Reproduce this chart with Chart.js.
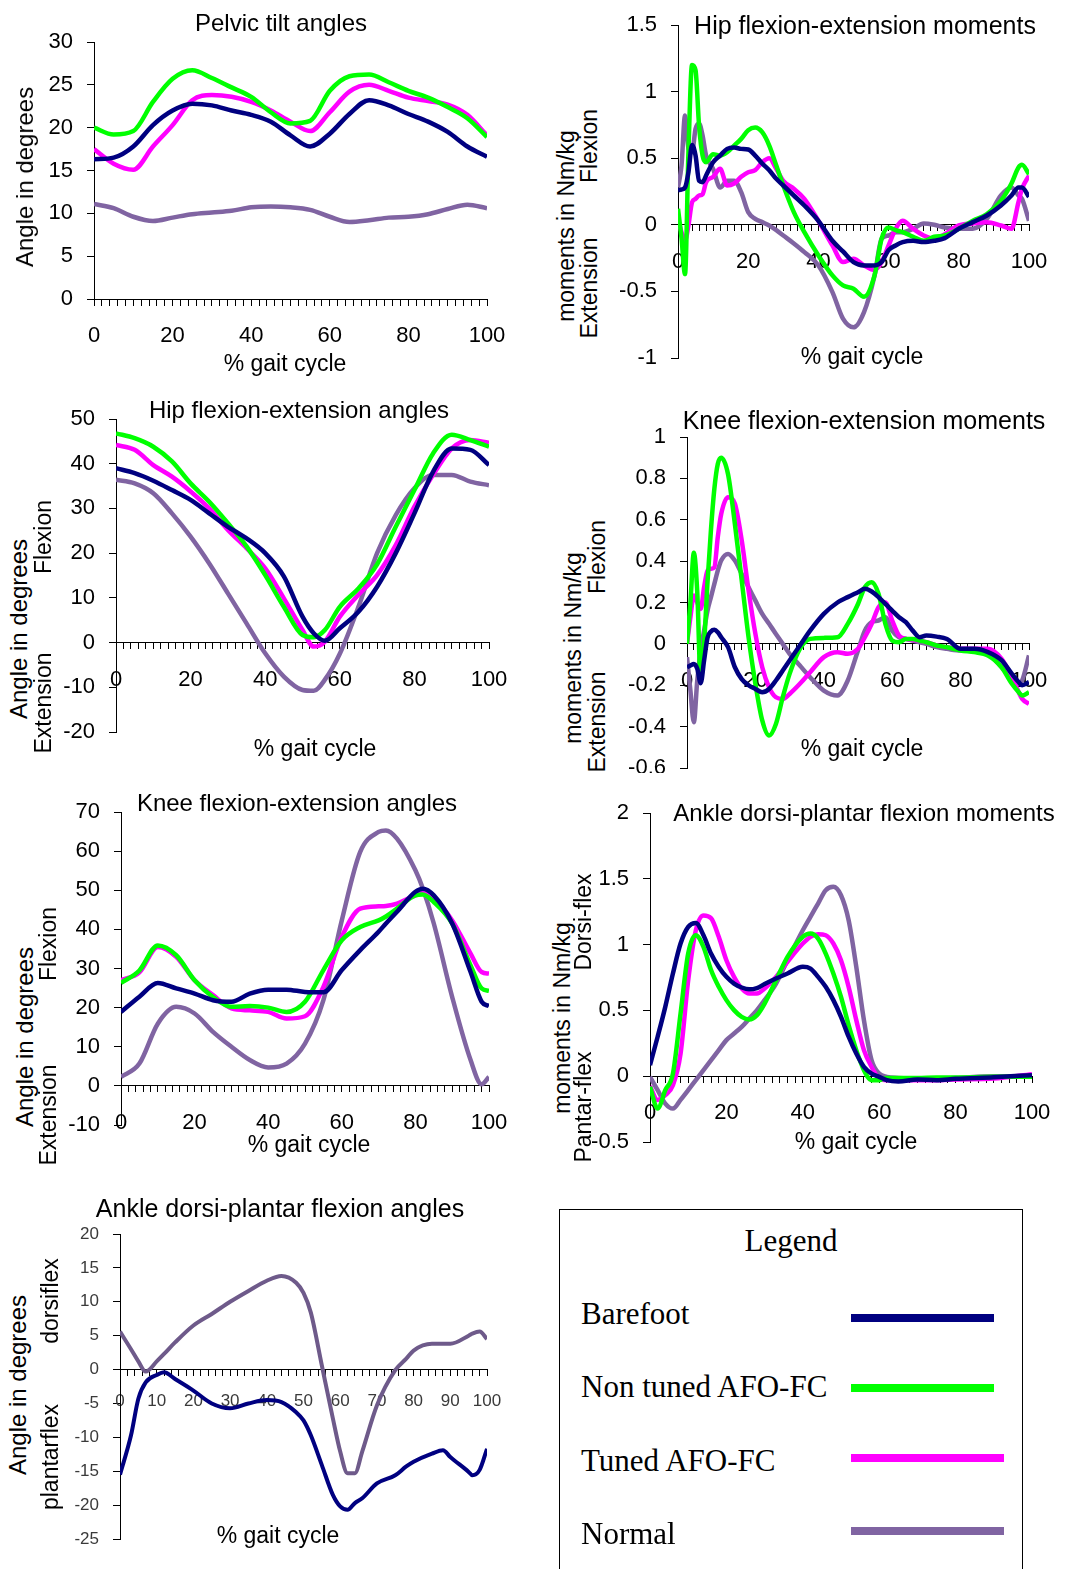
<!DOCTYPE html>
<html>
<head>
<meta charset="utf-8">
<title>Gait kinematics and kinetics</title>
<script src="https://cdn.jsdelivr.net/npm/chart.js@4.4.1/dist/chart.umd.min.js"></script>
<style>
  body { margin: 0; width: 1080px; height: 1569px; position: relative; overflow: hidden; background: #fff;
         font-family: "Liberation Sans", Arial, sans-serif; color: #000; }
  canvas { position: absolute; }
  .t { position: absolute; white-space: pre; line-height: 1; transform: translate(-50%, -50%); font-size: 23px; z-index: 2; }
  .r { transform: translate(-50%, -50%) rotate(-90deg); }
  .ag { font-size: 24px; }
  #legendBox { position: absolute; left: 559px; top: 1209px; width: 462px; height: 400px; border: 1.5px solid #000; }
  .lg { position: absolute; white-space: pre; line-height: 1; font-family: "Liberation Serif", "Times New Roman", serif; font-size: 31px; z-index: 2; }
  .lgline { position: absolute; height: 8px; }
</style>
</head>
<body>

<!-- titles / axis titles -->
<div class="t" style="left:281px;top:23px;font-size:24px">Pelvic tilt angles</div>
<div class="t r ag" style="left:25px;top:177px">Angle in degrees</div>
<div class="t" style="left:285px;top:363px">% gait cycle</div>

<div class="t" style="left:865px;top:25px;font-size:25px">Hip flexion-extension moments</div>
<div class="t r" style="left:566px;top:226px">moments in Nm/kg</div>
<div class="t r" style="left:589px;top:146px">Flexion</div>
<div class="t r" style="left:589px;top:288px">Extension</div>
<div class="t" style="left:862px;top:356px">% gait cycle</div>

<div class="t" style="left:299px;top:410px;font-size:24px">Hip flexion-extension angles</div>
<div class="t r ag" style="left:19px;top:629px">Angle in degrees</div>
<div class="t r" style="left:43px;top:537px">Flexion</div>
<div class="t r" style="left:43px;top:703px">Extension</div>
<div class="t" style="left:315px;top:748px">% gait cycle</div>

<div class="t" style="left:864px;top:420px;font-size:25px">Knee flexion-extension moments</div>
<div class="t r" style="left:573px;top:648px">moments in Nm/kg</div>
<div class="t r" style="left:597px;top:557px">Flexion</div>
<div class="t r" style="left:597px;top:722px">Extension</div>
<div class="t" style="left:862px;top:748px">% gait cycle</div>

<div class="t" style="left:297px;top:803px;font-size:24px">Knee flexion-extension angles</div>
<div class="t r ag" style="left:25px;top:1037px">Angle in degrees</div>
<div class="t r" style="left:48px;top:944px">Flexion</div>
<div class="t r" style="left:48px;top:1115px">Extension</div>
<div class="t" style="left:309px;top:1144px">% gait cycle</div>

<div class="t" style="left:864px;top:813px;font-size:24px">Ankle dorsi-plantar flexion moments</div>
<div class="t r" style="left:562px;top:1018px">moments in Nm/kg</div>
<div class="t r" style="left:583px;top:922px">Dorsi-flex</div>
<div class="t r" style="left:583px;top:1107px">Pantar-flex</div>
<div class="t" style="left:856px;top:1141px">% gait cycle</div>

<div class="t" style="left:280px;top:1208px;font-size:25px">Ankle dorsi-plantar flexion angles</div>
<div class="t r ag" style="left:18px;top:1385px">Angle in degrees</div>
<div class="t r" style="left:50px;top:1301px">dorsiflex</div>
<div class="t r" style="left:50px;top:1457px">plantarflex</div>
<div class="t" style="left:278px;top:1535px">% gait cycle</div>

<div id="legendBox"></div>

<script>
// series
var seriesNames = ['Barefoot', 'Non tuned AFO-FC', 'Tuned AFO-FC', 'Normal'];
var seriesColors = ['#000080', '#00ff00', '#ff00ff', '#8064a2'];

// Pelvic tilt angles (deg)
var pelvicX = [0, 5, 10, 15, 20, 25, 30, 35, 40, 45, 50, 55, 60, 65, 70, 75, 80, 85, 90, 95, 100];
var pelvicBarefoot = [16.3, 16.5, 17.8, 20.3, 22.0, 22.8, 22.6, 22.0, 21.5, 20.7, 19.1, 17.8, 19.3, 21.6, 23.2, 22.6, 21.6, 20.7, 19.5, 17.8, 16.6];
var pelvicNonTuned = [20.0, 19.2, 19.6, 23.0, 25.7, 26.7, 25.8, 24.7, 23.6, 21.8, 20.5, 20.8, 24.3, 26.0, 26.2, 25.3, 24.3, 23.5, 22.4, 21.1, 18.9];
var pelvicTuned = [17.5, 15.8, 15.1, 17.8, 20.3, 23.2, 23.8, 23.6, 23.0, 22.0, 20.7, 19.6, 21.8, 24.2, 25.0, 24.3, 23.5, 23.1, 22.7, 21.5, 19.1];
var pelvicNormal = [11.1, 10.6, 9.6, 9.1, 9.5, 9.9, 10.1, 10.3, 10.7, 10.8, 10.7, 10.4, 9.6, 9.0, 9.2, 9.5, 9.6, 9.9, 10.5, 11.0, 10.6];

// Hip flexion-extension moments (Nm/kg)
var hipMomX = [0, 1, 2, 3, 4, 5, 6, 7, 8, 10, 12, 14, 16, 18, 20, 22, 24, 26, 28, 30, 33, 36, 40, 44, 47, 50, 53, 56, 58, 60, 62, 64, 67, 70, 73, 76, 80, 84, 88, 92, 95, 97, 98, 100];
var hipMomBarefoot = [0.26, 0.265, 0.28, 0.40, 0.60, 0.52, 0.33, 0.32, 0.37, 0.47, 0.52, 0.57, 0.58, 0.57, 0.565, 0.52, 0.46, 0.41, 0.345, 0.295, 0.22, 0.145, 0.03, -0.12, -0.2, -0.28, -0.305, -0.305, -0.28, -0.19, -0.155, -0.13, -0.12, -0.13, -0.12, -0.1, -0.03, 0.02, 0.07, 0.145, 0.22, 0.28, 0.28, 0.21];
var hipMomNonTuned = [0.12, -0.1, -0.37, 0.57, 1.2, 1.16, 0.745, 0.52, 0.47, 0.53, 0.52, 0.545, 0.595, 0.645, 0.71, 0.73, 0.695, 0.595, 0.445, 0.295, 0.095, -0.055, -0.23, -0.38, -0.455, -0.48, -0.54, -0.38, -0.105, -0.02, -0.04, -0.055, -0.09, -0.12, -0.09, -0.08, -0.03, 0.03, 0.08, 0.18, 0.31, 0.43, 0.45, 0.38];
var hipMomTuned = [0.045, -0.055, -0.12, 0, 0.17, 0.195, 0.22, 0.23, 0.32, 0.36, 0.42, 0.295, 0.31, 0.36, 0.395, 0.41, 0.47, 0.5, 0.42, 0.33, 0.27, 0.195, 0.03, -0.155, -0.28, -0.255, -0.305, -0.34, -0.28, -0.155, -0.03, 0.03, -0.03, -0.08, -0.105, -0.07, -0.005, 0.01, 0.02, -0.005, -0.03, 0.17, 0.27, 0.37];
var hipMomNormal = [0.28, 0.445, 0.82, 0.57, 0.545, 0.72, 0.76, 0.67, 0.52, 0.42, 0.28, 0.33, 0.33, 0.245, 0.095, 0.045, 0.02, -0.005, -0.04, -0.08, -0.14, -0.205, -0.305, -0.505, -0.705, -0.77, -0.655, -0.38, -0.105, -0.08, -0.055, -0.055, -0.03, 0.01, 0, -0.02, -0.03, -0.03, 0.045, 0.22, 0.28, 0.22, 0.195, 0.03];

// Hip flexion-extension angles (deg)
var hipAngX = [0, 5, 10, 15, 20, 25, 30, 35, 40, 45, 50, 53, 56, 60, 65, 70, 75, 80, 85, 90, 95, 100];
var hipAngBarefoot = [39.0, 37.9, 36.2, 34.1, 31.9, 28.9, 25.9, 23.3, 20.0, 14.8, 5.8, 2.1, 0.4, 3.2, 6.9, 12.5, 20.0, 28.9, 38.2, 43.4, 43.1, 39.7];
var hipAngNonTuned = [46.8, 45.7, 43.8, 40.5, 35.6, 31.5, 26.7, 21.5, 15.1, 8.0, 1.7, 1.2, 2.8, 8.0, 12.1, 17.5, 25.9, 34.1, 42.3, 46.5, 45.3, 43.8];
var hipAngTuned = [44.2, 43.1, 39.7, 37.1, 33.8, 30.0, 25.2, 21.1, 16.6, 9.9, 2.8, -0.9, 0.2, 5.8, 10.7, 15.1, 21.8, 30.4, 37.5, 43.4, 45.3, 44.7];
var hipAngNormal = [36.4, 35.6, 33.4, 28.9, 23.7, 17.7, 11.0, 4.3, -2.4, -7.6, -10.6, -10.8, -8.3, -2.5, 8.0, 20.0, 28.5, 34.5, 37.5, 37.5, 36.0, 35.2];

// Knee flexion-extension moments (Nm/kg)
var kneeMomX = [0, 1, 2, 3, 4, 5, 6, 7, 8, 9, 10, 12, 14, 16, 18, 20, 22, 24, 26, 28, 30, 33, 36, 40, 44, 47, 50, 52, 54, 56, 58, 60, 62, 64, 66, 68, 70, 73, 76, 80, 84, 88, 92, 95, 97, 98, 100];
var kneeMomBarefoot = [-0.113, -0.105, -0.097, -0.12, -0.19, -0.08, 0.03, 0.06, 0.068, 0.056, 0.032, -0.016, -0.113, -0.17, -0.2, -0.218, -0.234, -0.218, -0.177, -0.129, -0.08, -0.008, 0.064, 0.145, 0.2, 0.226, 0.25, 0.266, 0.253, 0.226, 0.193, 0.161, 0.129, 0.105, 0.064, 0.032, 0.04, 0.035, 0.024, -0.024, -0.024, -0.04, -0.08, -0.145, -0.185, -0.2, -0.185];
var kneeMomNonTuned = [0, 0.2, 0.44, 0.25, -0.17, 0.0, 0.3, 0.55, 0.75, 0.87, 0.9, 0.82, 0.58, 0.306, 0.032, -0.193, -0.37, -0.443, -0.387, -0.258, -0.145, -0.024, 0.024, 0.029, 0.032, 0.097, 0.193, 0.274, 0.298, 0.242, 0.097, 0.016, 0.008, 0.024, 0.024, 0.016, 0.008, -0.008, -0.016, -0.032, -0.04, -0.056, -0.113, -0.193, -0.234, -0.25, -0.234];
var kneeMomTuned = [0, 0.129, 0.234, 0.2, 0.169, 0.274, 0.354, 0.363, 0.37, 0.516, 0.628, 0.709, 0.677, 0.5, 0.258, 0.048, -0.113, -0.21, -0.258, -0.266, -0.242, -0.193, -0.137, -0.064, -0.04, -0.048, -0.024, 0.032, 0.097, 0.177, 0.2, 0.113, 0.04, 0.024, 0.019, 0.016, 0.008, -0.008, -0.016, -0.024, -0.024, -0.024, -0.073, -0.161, -0.234, -0.266, -0.29];
var kneeMomNormal = [-0.064, -0.226, -0.379, -0.177, -0.032, 0.064, 0.161, 0.226, 0.29, 0.354, 0.403, 0.435, 0.403, 0.338, 0.274, 0.209, 0.145, 0.097, 0.048, 0, -0.048, -0.105, -0.161, -0.226, -0.25, -0.177, -0.032, 0.064, 0.105, 0.113, 0.129, 0.064, 0.032, 0.024, 0.016, 0.008, 0, -0.016, -0.024, -0.032, -0.032, -0.048, -0.113, -0.169, -0.193, -0.177, -0.056];

// Knee flexion-extension angles (deg)
var kneeAngX = [0, 5, 10, 15, 20, 25, 30, 35, 40, 45, 50, 55, 60, 65, 70, 72, 75, 80, 82, 85, 90, 95, 98, 100];
var kneeAngBarefoot = [18.9, 22.8, 26.3, 24.9, 23.6, 21.9, 21.5, 23.6, 24.6, 24.6, 24.0, 23.9, 29.6, 34.7, 39.4, 41.5, 44.5, 49.6, 50.4, 48.7, 41.5, 29.1, 21.5, 20.4];
var kneeAngNonTuned = [26.3, 29.5, 35.9, 33.4, 27.0, 22.7, 20.2, 20.4, 20.0, 18.9, 21.5, 29.6, 37.2, 40.6, 42.3, 43.3, 45.3, 48.7, 48.9, 47.0, 41.5, 30.8, 24.9, 24.3];
var kneeAngTuned = [27.0, 29.0, 35.5, 33.0, 27.0, 23.2, 19.8, 19.3, 18.9, 17.2, 17.8, 25.3, 38.1, 45.3, 45.9, 46.0, 46.6, 48.7, 49.3, 47.9, 42.3, 33.8, 29.1, 28.7];
var kneeAngNormal = [2.3, 5.7, 15.9, 20.2, 18.5, 13.8, 10.0, 6.6, 4.7, 5.7, 10.8, 21.9, 42.3, 59.8, 64.9, 65.3, 63.2, 55.1, 50.5, 41.5, 22.7, 6.6, 0.4, 2.3];

// Ankle dorsi-plantar flexion moments (Nm/kg)
var ankleMomX = [0, 2, 4, 6, 8, 10, 12, 14, 16, 18, 20, 22, 24, 26, 28, 30, 33, 36, 40, 42, 44, 46, 48, 50, 52, 54, 56, 58, 60, 62, 65, 70, 75, 80, 90, 100];
var ankleMomBarefoot = [0.084, 0.3, 0.527, 0.78, 1.008, 1.135, 1.165, 1.071, 0.93, 0.83, 0.755, 0.704, 0.674, 0.66, 0.67, 0.7, 0.742, 0.78, 0.831, 0.818, 0.755, 0.679, 0.578, 0.451, 0.3, 0.172, 0.071, 0.02, -0.005, -0.03, -0.04, -0.025, -0.03, -0.02, -0.008, 0.008];
var ankleMomNonTuned = [-0.081, -0.246, -0.106, 0.02, 0.476, 0.932, 1.071, 0.983, 0.805, 0.679, 0.578, 0.502, 0.451, 0.431, 0.464, 0.552, 0.729, 0.907, 1.059, 1.084, 1.046, 0.932, 0.78, 0.603, 0.388, 0.198, 0.046, -0.03, -0.03, -0.013, -0.013, -0.013, -0.01, -0.01, -0.005, -0.005];
var ankleMomTuned = [-0.076, -0.18, -0.144, -0.068, 0.172, 0.729, 1.109, 1.222, 1.2, 1.059, 0.881, 0.755, 0.666, 0.628, 0.628, 0.666, 0.755, 0.869, 1.008, 1.059, 1.079, 1.071, 1.008, 0.881, 0.679, 0.426, 0.198, 0.071, -0.018, -0.03, -0.03, -0.03, -0.03, -0.025, -0.018, 0.015];
var ankleMomNormal = [-0.005, -0.106, -0.208, -0.246, -0.18, -0.106, -0.03, 0.046, 0.122, 0.198, 0.274, 0.324, 0.375, 0.438, 0.502, 0.578, 0.704, 0.881, 1.109, 1.211, 1.312, 1.413, 1.439, 1.375, 1.185, 0.831, 0.426, 0.122, 0.02, -0.005, -0.013, -0.018, -0.018, -0.013, 0, -0.005];

// Ankle dorsi-plantar flexion angles (deg), only two series drawn
var ankleAngX = [0, 3, 5, 7, 10, 12, 15, 20, 25, 30, 35, 40, 44, 48, 50, 52, 55, 58, 60, 62, 64, 66, 70, 75, 78, 80, 85, 88, 90, 95, 96, 98, 100];
var ankleAngBarefoot = [-15.5, -9.7, -4.3, -1.9, -0.8, -0.4, -1.4, -3.1, -5.0, -5.7, -5.0, -4.5, -4.8, -6.3, -7.5, -9.7, -14.1, -18.5, -20.2, -20.7, -19.7, -19.0, -16.8, -15.6, -14.3, -13.6, -12.4, -11.9, -12.9, -15.1, -15.6, -14.8, -11.7];
var ankleAngNormal = [5.6, 3.0, 1.2, -0.3, 1.2, 2.3, 4.0, 6.5, 8.2, 10.0, 11.6, 13.1, 13.8, 12.8, 11.3, 8.4, 0.6, -7.2, -12.1, -15.3, -15.3, -12.1, -5.3, -0.1, 1.6, 2.8, 3.8, 3.8, 3.8, 5.0, 5.3, 5.6, 4.5];

// build one panel: box = plot area [left, top, right, bottom] on the page
function drawPanel(p) {
    var canvas = document.createElement('canvas');
    var left = p.box[0] - 70, top = p.box[1] - 20;
    var w = p.box[2] + 30 - left, h = p.box[3] + p.padB - top;
    canvas.width = w; canvas.height = h;
    canvas.style.left = left + 'px'; canvas.style.top = top + 'px';
    canvas.style.width = w + 'px'; canvas.style.height = h + 'px';
    document.body.appendChild(canvas);

    var tickFont = { family: 'Liberation Sans', size: p.fontSize || 22 };
    var tickColor = p.tickColor || '#000';

    return new Chart(canvas.getContext('2d'), {
        type: 'line',
        data: {
            datasets: p.series.map(function(s) {
                return {
                    label: s.name,
                    data: p.x.map(function(x, i) { return { x: x, y: s.values[i] }; }),
                    borderColor: s.color,
                    borderWidth: p.lineWidth || 4.5,
                    pointRadius: 0,
                    cubicInterpolationMode: 'monotone',
                    fill: false
                };
            })
        },
        options: {
            responsive: false,
            animation: false,
            layout: { padding: { left: 10, top: 20, right: 30, bottom: p.padB } },
            plugins: { legend: { display: false }, tooltip: { enabled: false } },
            scales: {
                x: {
                    type: 'linear', min: 0, max: 100,
                    position: { y: 0 },
                    border: { display: true, color: '#000', width: 1 },
                    grid: { drawOnChartArea: false, drawTicks: true, tickLength: 6, color: '#000' },
                    ticks: {
                        stepSize: 2, autoSkip: false, maxRotation: 0, minRotation: 0,
                        padding: p.xPad || 18, color: tickColor, font: tickFont,
                        callback: function(v) { return Math.round(v) % p.labelStep === 0 ? String(Math.round(v)) : ''; }
                    },
                    afterFit: function(scale) { scale.paddingLeft = 0; scale.paddingRight = 0; }
                },
                y: {
                    min: p.yMin, max: p.yMax,
                    border: { display: true, color: '#000', width: 1 },
                    grid: { drawOnChartArea: false, drawTicks: true, tickLength: 7, color: '#000' },
                    ticks: {
                        stepSize: p.yStep, padding: 14, color: tickColor, font: tickFont,
                        callback: function(v) { return String(Math.round(v * 100) / 100); }
                    },
                    afterFit: function(scale) { scale.width = 60; scale.paddingTop = 0; scale.paddingBottom = 0; }
                }
            }
        }
    });
}

function fourSeries(a, b, c, d) {
    return [a, b, c, d].map(function(vals, i) {
        return { name: seriesNames[i], color: seriesColors[i], values: vals };
    });
}

drawPanel({ box: [94, 42, 487, 299], padB: 60, x: pelvicX, yMin: 0, yMax: 30, yStep: 5, labelStep: 20,
    series: fourSeries(pelvicBarefoot, pelvicNonTuned, pelvicTuned, pelvicNormal) });

drawPanel({ box: [678, 25, 1029, 358], padB: 20, x: hipMomX, yMin: -1, yMax: 1.5, yStep: 0.5, labelStep: 20,
    series: fourSeries(hipMomBarefoot, hipMomNonTuned, hipMomTuned, hipMomNormal) });

drawPanel({ box: [116, 419, 489, 732], padB: 20, x: hipAngX, yMin: -20, yMax: 50, yStep: 10, labelStep: 20,
    series: fourSeries(hipAngBarefoot, hipAngNonTuned, hipAngTuned, hipAngNormal) });

drawPanel({ box: [687, 437, 1029, 768], padB: 5, x: kneeMomX, yMin: -0.6, yMax: 1, yStep: 0.2, labelStep: 20,
    series: fourSeries(kneeMomBarefoot, kneeMomNonTuned, kneeMomTuned, kneeMomNormal) });

drawPanel({ box: [121, 812, 489, 1125], padB: 20, x: kneeAngX, yMin: -10, yMax: 70, yStep: 10, labelStep: 20,
    series: fourSeries(kneeAngBarefoot, kneeAngNonTuned, kneeAngTuned, kneeAngNormal) });

drawPanel({ box: [650, 813, 1032, 1142], padB: 20, x: ankleMomX, yMin: -0.5, yMax: 2, yStep: 0.5, labelStep: 20,
    series: fourSeries(ankleMomBarefoot, ankleMomNonTuned, ankleMomTuned, ankleMomNormal) });

drawPanel({ box: [120, 1234, 487, 1539], padB: 6, x: ankleAngX, yMin: -25, yMax: 20, yStep: 5, labelStep: 10,
    fontSize: 17, tickColor: '#3a3a3a', xPad: 16, lineWidth: 4,
    series: [
        { name: seriesNames[0], color: seriesColors[0], values: ankleAngBarefoot },
        { name: seriesNames[3], color: '#6e5a8a', values: ankleAngNormal }
    ] });

// legend box (html text)
var legendTexts = [1313, 1386, 1460, 1533];
var legendLines = [[1318, 143], [1388, 143], [1458, 153], [1531, 153]];
function addEl(cls, css, text) {
    var el = document.createElement('div');
    el.className = cls;
    el.style.cssText = css;
    if (text) el.textContent = text;
    document.body.appendChild(el);
}
addEl('lg', 'left:791px;top:1240px;transform:translate(-50%,-50%)', 'Legend');
seriesNames.forEach(function(name, i) {
    addEl('lg', 'left:581px;top:' + legendTexts[i] + 'px;transform:translateY(-50%)', name);
    addEl('lgline', 'left:851px;top:' + (legendLines[i][0] - 4) + 'px;width:' + legendLines[i][1] + 'px;background:' + seriesColors[i]);
});
</script>
</body>
</html>
